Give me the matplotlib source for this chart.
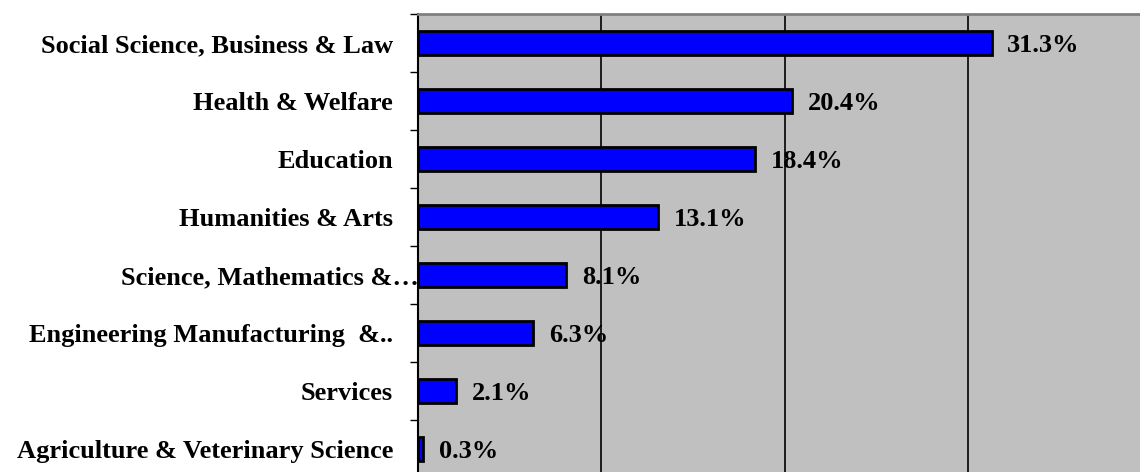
import matplotlib.pyplot as plt
import matplotlib.transforms as mtransforms
import numpy as np

# fields of study, top to bottom, with their share in percent
fields = ['Social Science, Business & Law', 'Health & Welfare', 'Education',
          'Humanities & Arts', 'Science, Mathematics &\u2026',
          'Engineering Manufacturing  &..', 'Services',
          'Agriculture & Veterinary Science']
shares = [31.3, 20.4, 18.4, 13.1, 8.1, 6.3, 2.1, 0.3]
grid_at = [10, 20, 30]

plt.rcParams['font.family'] = ['Liberation Serif', 'DejaVu Serif']

fig = plt.figure(figsize=(11.4, 4.72), dpi=100)
# plot area runs slightly past the right and bottom edges of the figure
ax = fig.add_axes([418 / 1140, -6 / 472, 733 / 1140, 464 / 472])
ax.set_facecolor('#c0c0c0')

y = np.arange(len(fields))[::-1]
ax.barh(y, shares, height=0.4, color='#0000ff', edgecolor='black',
        linewidth=2, zorder=3)

for g in grid_at:
    ax.axvline(g, color='black', linewidth=1.2, zorder=2)

for yi, v in zip(y, shares):
    ax.text(v + 0.85, yi, f'{v:.1f}%', va='center_baseline', ha='left',
            fontsize=19, fontweight='bold', zorder=1)

ax.set_xlim(0, 40)
ax.set_ylim(-0.5, len(fields) - 0.5)
ax.set_xticks([])
ax.set_yticks(y)
ax.set_yticklabels(fields, fontsize=19, fontweight='bold')
ax.tick_params(axis='y', which='major', length=0, pad=18)
ax.set_yticks(np.arange(len(fields) + 1) - 0.5, minor=True)
ax.tick_params(axis='y', which='minor', length=6, width=1, color='black')

# the truncated label runs right up to the axis line
for lab in ax.get_yticklabels():
    if lab.get_text().endswith('\u2026'):
        shift = mtransforms.ScaledTranslation(0.26, 0, fig.dpi_scale_trans)
        lab.set_transform(lab.get_transform() + shift)

ax.spines['left'].set_color('black')
ax.spines['left'].set_linewidth(1.5)
ax.spines['top'].set_color('#808080')
ax.spines['top'].set_linewidth(2)
ax.spines['right'].set_visible(False)
ax.spines['bottom'].set_visible(False)

fig.savefig('out.png', dpi=100, facecolor='white')
